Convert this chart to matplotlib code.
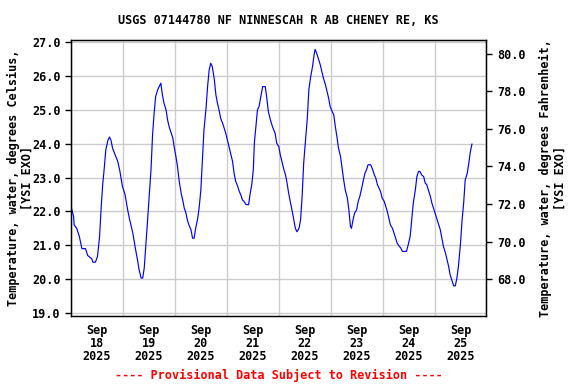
import matplotlib
matplotlib.use("Agg")
import matplotlib.pyplot as plt

# days since Sep 18 2025 00:00, water temperature (deg C)
days = [0.00, 0.05, 0.06, 0.11, 0.16, 0.21, 0.28, 0.32, 0.40, 0.42, 0.47, 0.51, 0.55, 0.58,
        0.61, 0.64, 0.67, 0.71, 0.74, 0.77, 0.80, 0.85, 0.90, 0.94, 0.99, 1.04, 1.09, 1.13,
        1.19, 1.24, 1.28, 1.31, 1.35, 1.38, 1.41, 1.44, 1.47, 1.51, 1.54, 1.57, 1.60, 1.63,
        1.67, 1.70, 1.73, 1.76, 1.79, 1.83, 1.86, 1.89, 1.92, 1.96, 1.99, 2.02, 2.05, 2.08,
        2.12, 2.15, 2.18, 2.21, 2.24, 2.27, 2.31, 2.34, 2.37, 2.40, 2.44, 2.47, 2.50, 2.53,
        2.56, 2.60, 2.63, 2.66, 2.69, 2.72, 2.76, 2.79, 2.82, 2.85, 2.88, 2.92, 2.95, 2.98,
        3.01, 3.04, 3.08, 3.11, 3.14, 3.17, 3.21, 3.24, 3.27, 3.30, 3.33, 3.37, 3.42, 3.44,
        3.48, 3.51, 3.53, 3.56, 3.59, 3.62, 3.65, 3.69, 3.74, 3.77, 3.80, 3.84, 3.88, 3.93,
        3.96, 4.00, 4.03, 4.06, 4.10, 4.13, 4.16, 4.19, 4.23, 4.26, 4.29, 4.32, 4.35, 4.39,
        4.42, 4.45, 4.48, 4.52, 4.55, 4.58, 4.61, 4.65, 4.68, 4.70, 4.74, 4.77, 4.80, 4.83,
        4.86, 4.90, 4.93, 4.96, 4.99, 5.03, 5.06, 5.09, 5.12, 5.15, 5.19, 5.22, 5.25, 5.28,
        5.32, 5.35, 5.38, 5.40, 5.43, 5.46, 5.50, 5.53, 5.56, 5.59, 5.63, 5.66, 5.69, 5.72,
        5.77, 5.81, 5.84, 5.87, 5.90, 5.93, 5.96, 5.99, 6.03, 6.06, 6.09, 6.12, 6.15, 6.19,
        6.22, 6.25, 6.28, 6.32, 6.35, 6.38, 6.46, 6.49, 6.53, 6.56, 6.59, 6.63, 6.66, 6.69,
        6.72, 6.75, 6.79, 6.82, 6.85, 6.88, 6.92, 6.95, 6.98, 7.01, 7.05, 7.08, 7.11, 7.14,
        7.17, 7.21, 7.24, 7.27, 7.30, 7.34, 7.37, 7.40, 7.43, 7.46, 7.50, 7.53, 7.56, 7.59,
        7.63, 7.66, 7.69, 7.72]
temps = [22.15, 21.85, 21.6, 21.5, 21.26, 20.9, 20.9, 20.7, 20.6, 20.5, 20.5, 20.67, 21.26, 22.1,
         22.8, 23.28, 23.82, 24.1, 24.2, 24.1, 23.87, 23.67, 23.48, 23.2, 22.74, 22.5, 22.05, 21.75,
         21.36, 20.9, 20.57, 20.28, 20.03, 20.03, 20.33, 20.97, 21.65, 22.54, 23.23, 24.26, 24.9, 25.4,
         25.6, 25.7, 25.79, 25.44, 25.2, 25.0, 24.7, 24.5, 24.36, 24.17, 23.87, 23.62, 23.33, 22.93,
         22.54, 22.34, 22.1, 21.97, 21.75, 21.6, 21.46, 21.21, 21.21, 21.5, 21.8, 22.15, 22.64, 23.53,
         24.41, 25.05, 25.7, 26.18, 26.38, 26.28, 25.89, 25.44, 25.2, 25.0, 24.76, 24.6, 24.46, 24.31,
         24.12, 23.92, 23.67, 23.48, 23.13, 22.89, 22.74, 22.59, 22.49, 22.34, 22.3, 22.2, 22.2, 22.44,
         22.79, 23.23, 24.02, 24.5, 25.0, 25.1, 25.35, 25.69, 25.69, 25.35, 24.95, 24.7, 24.5, 24.31,
         24.02, 23.92, 23.67, 23.48, 23.23, 23.08, 22.84, 22.54, 22.24, 22.0, 21.75, 21.5, 21.4, 21.5,
         21.75, 22.44, 23.43, 24.21, 24.76, 25.6, 25.94, 26.28, 26.63, 26.79, 26.63, 26.48, 26.33, 26.13,
         25.94, 25.74, 25.54, 25.35, 25.1, 24.95, 24.85, 24.5, 24.21, 23.87, 23.62, 23.28, 22.93, 22.64,
         22.4, 22.05, 21.56, 21.5, 21.75, 21.95, 22.05, 22.3, 22.44, 22.64, 22.93, 23.13, 23.23, 23.38,
         23.38, 23.23, 23.08, 22.98, 22.79, 22.69, 22.59, 22.4, 22.3, 22.15, 22.0, 21.8, 21.6, 21.5,
         21.36, 21.21, 21.06, 20.97, 20.92, 20.82, 20.82, 21.0, 21.26, 21.75, 22.24, 22.64, 23.03, 23.18,
         23.18, 23.08, 23.03, 22.84, 22.79, 22.64, 22.44, 22.24, 22.1, 21.95, 21.75, 21.6, 21.46, 21.21,
         20.97, 20.77, 20.57, 20.38, 20.13, 19.93, 19.8, 19.8, 20.03, 20.38, 21.06, 21.75, 22.24, 22.93,
         23.13, 23.43, 23.77, 23.99]

day_labels = ["Sep\n18\n2025", "Sep\n19\n2025", "Sep\n20\n2025", "Sep\n21\n2025",
              "Sep\n22\n2025", "Sep\n23\n2025", "Sep\n24\n2025", "Sep\n25\n2025"]
c_ticks = [19, 20, 21, 22, 23, 24, 25, 26, 27]
f_ticks = [68, 70, 72, 74, 76, 78, 80]

font = "DejaVu Sans Mono"
fs = 8.5

fig = plt.figure(figsize=(5.76, 3.84), dpi=100)
ax = fig.add_axes([0.1233, 0.178, 0.7213, 0.719])

ax.plot(days, temps, color="#0000ff", lw=0.85)

ylo, yhi = 18.92, 27.08
ax.set_xlim(0, 8)
ax.set_ylim(ylo, yhi)

# gridlines at midnight, labels at noon
ax.set_xticks(range(0, 9))
ax.set_xticks([i + 0.5 for i in range(8)], minor=True)
ax.set_xticklabels([])
ax.set_xticklabels(day_labels, minor=True, family=font, weight="bold", fontsize=fs,
                   linespacing=1.0)
ax.tick_params(axis="x", which="both", length=0, pad=6)
ax.grid(True, axis="x", which="major", color="#cccccc", lw=1)

ax.set_yticks(c_ticks)
ax.set_yticklabels(["%.1f" % v for v in c_ticks], family=font, weight="bold", fontsize=fs)
ax.tick_params(axis="y", length=4, width=1)
ax.grid(True, axis="y", color="#cccccc", lw=1)
ax.set_axisbelow(True)
for s in ax.spines.values():
    s.set_linewidth(1.0)

ax.set_ylabel("Temperature, water, degrees Celsius,\n[YSI EXO]", family=font,
              weight="bold", fontsize=fs, linespacing=1.1)
ax.yaxis.set_label_coords(-0.09, 0.5)

ax2 = ax.twinx()
ax2.set_ylim(ylo * 9 / 5 + 32, yhi * 9 / 5 + 32)
ax2.set_yticks(f_ticks)
ax2.set_yticklabels(["%.1f" % v for v in f_ticks], family=font, weight="bold", fontsize=fs)
ax2.tick_params(axis="y", length=4, width=1)
ax2.set_ylabel("Temperature, water, degrees Fahrenheit,\n[YSI EXO]", family=font,
               weight="bold", fontsize=fs, linespacing=1.1, rotation=90)
ax2.yaxis.set_label_coords(1.127, 0.5)

fig.text(0.4835, 0.946, "USGS 07144780 NF NINNESCAH R AB CHENEY RE, KS", ha="center",
         va="center", family=font, weight="bold", fontsize=fs)
fig.text(0.4835, 0.023, "---- Provisional Data Subject to Revision ----", ha="center",
         va="center", family=font, weight="bold", fontsize=fs, color="red")

fig.savefig("out.png", dpi=100)
